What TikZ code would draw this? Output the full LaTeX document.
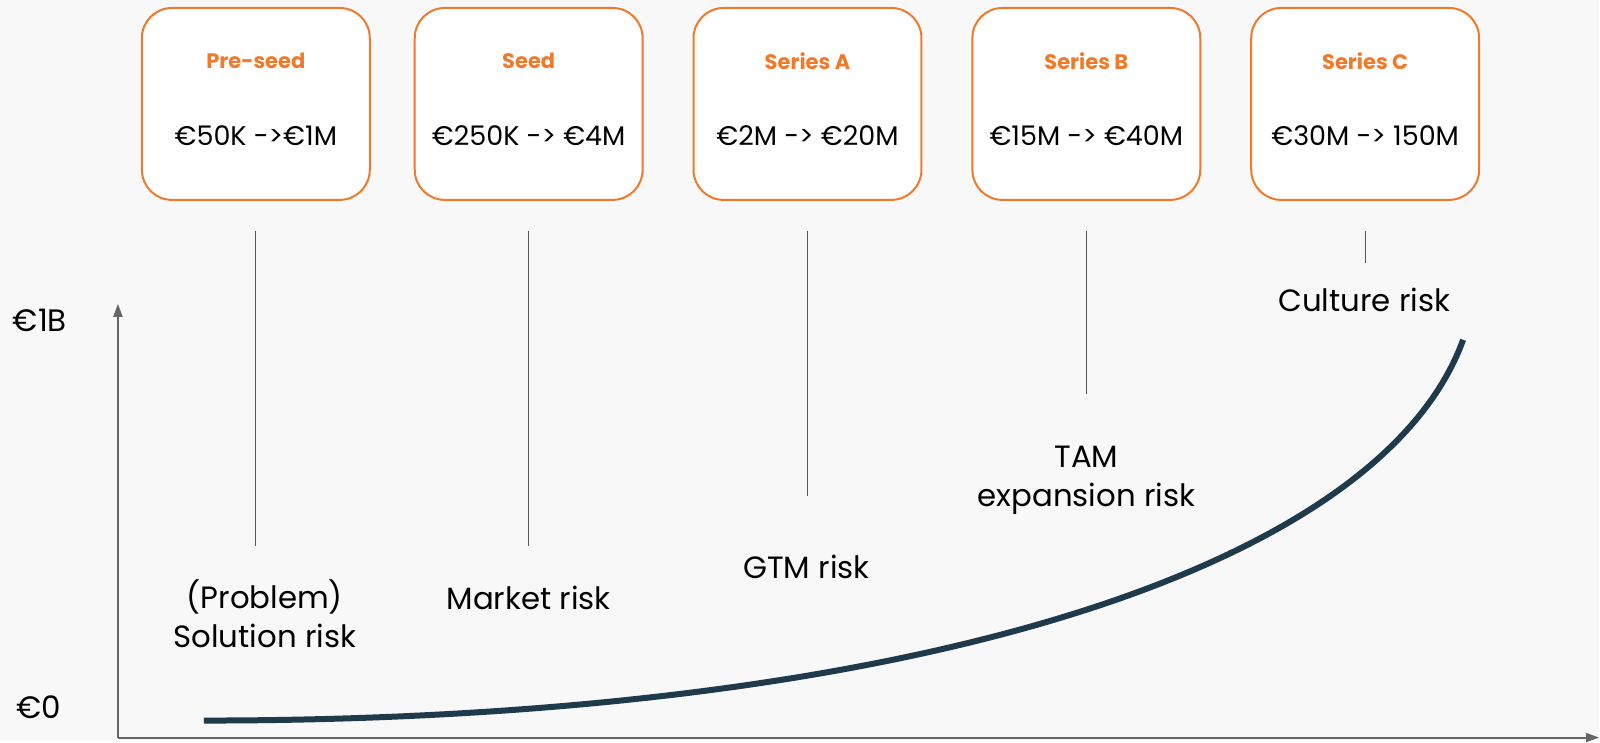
\documentclass[tikz,border=0pt]{standalone}
\usepackage{fontspec}
\setmainfont{Poppins}
\usetikzlibrary{arrows.meta}
\definecolor{paper}{HTML}{F8F8F8}
\definecolor{roundorange}{HTML}{F07A2B}
\definecolor{curveblue}{HTML}{1F3A4B}
\definecolor{axisgray}{HTML}{666666}
\definecolor{linegray}{HTML}{555555}
\begin{document}
\begin{tikzpicture}[x=0.5pt,y=-0.5pt,
  roundbox/.style={draw=roundorange, line width=1pt, fill=white, rounded corners=15pt,
    minimum width=114pt, minimum height=96pt},
  roundname/.style={text=roundorange, font=\bfseries\fontsize{10.5}{12}\selectfont},
  amount/.style={font=\fontsize{13.5}{16}\selectfont},
  risk/.style={align=center, font=\fontsize{15.4}{19.5}\selectfont},
  riskline/.style={linegray, line width=0.6pt},
  axis/.style={axisgray, line width=1pt, -{Triangle[length=6.5pt,width=4.5pt]}}]
\fill[paper] (0,0) rectangle (1600,741);

\foreach \x/\round/\amt/\bot [count=\i] in {256/Pre-seed/€50K ->€1M/546, 529/Seed/€250K -> €4M/546,
  808/Series A/€2M -> €20M/496, 1087/Series B/€15M -> €40M/394, 1366/Series C/€30M -> 150M/263}
{
    \node[roundbox] (box\i) at (\x,104) {};
    \node[roundname] (name\i) at (\x,61) {\round};
    \node[amount] (amt\i) at (\x,136) {\amt};
    \coordinate (top\i) at (\x,231);
    \coordinate (bot\i) at (\x,\bot);
    \draw[riskline] (top\i)--(bot\i);
}

\node[risk] (risk1) at (265,614) {(Problem)\\Solution risk};
\node[risk] (risk2) at (529,598) {Market risk};
\node[risk] (risk3) at (807,567) {GTM risk};
\node[risk] (risk4) at (1087,481) {TAM\\expansion risk};
\node[risk] (risk5) at (1365,300) {Culture risk};

% axes
\coordinate (origin) at (118,738);
\coordinate (ytip) at (118,304);
\coordinate (xtip) at (1600,738);
\draw[axis] (origin)--(ytip);
\draw[axis] (origin)--(xtip);
\node[font=\fontsize{15.5}{18}\selectfont] (top) at (40,321) {€1B};
\node[font=\fontsize{15.5}{18}\selectfont] (zero) at (39,708) {€0};

% growth curve
\coordinate (start) at (204,721);
\coordinate (end) at (1464,340);
\draw[curveblue, line width=3pt] (start) .. controls (900,721) and (1380,572) .. (end);
\end{tikzpicture}
\end{document}
